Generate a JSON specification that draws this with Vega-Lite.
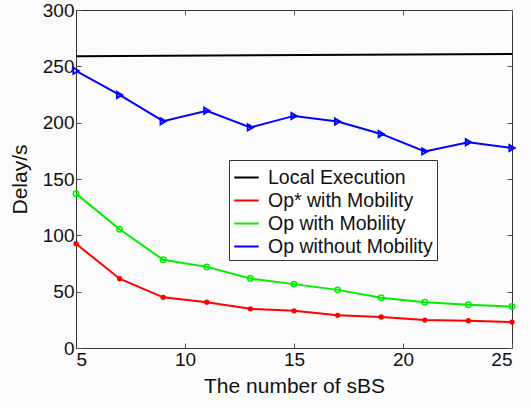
{
  "$schema": "https://vega.github.io/schema/vega-lite/v6.json",
  "autosize": {"type": "none"},
  "width": 436,
  "height": 338,
  "padding": {"left": 76, "top": 10, "right": 19, "bottom": 60},
  "background": "#fbfbfb",
  "config": {
    "font": "Liberation Sans",
    "view": {"stroke": "#333333", "strokeWidth": 1},
    "axis": {
      "grid": false,
      "labelFont": "Liberation Sans",
      "labelFontSize": 19,
      "labelColor": "#111111",
      "titleFont": "Liberation Sans",
      "titleFontSize": 21,
      "titleFontWeight": "normal",
      "titleColor": "#111111",
      "domainColor": "#333333",
      "tickColor": "#555555",
      "tickSize": -5
    }
  },
  "data": {
    "values": [
      {"x": 5, "y": 259, "s": "Local Execution"},
      {"x": 25, "y": 261, "s": "Local Execution"},
      {"x": 5, "y": 92.6, "s": "Op* with Mobility"},
      {"x": 7, "y": 61.5, "s": "Op* with Mobility"},
      {"x": 9, "y": 45, "s": "Op* with Mobility"},
      {"x": 11, "y": 40.7, "s": "Op* with Mobility"},
      {"x": 13, "y": 34.8, "s": "Op* with Mobility"},
      {"x": 15, "y": 33, "s": "Op* with Mobility"},
      {"x": 17, "y": 29, "s": "Op* with Mobility"},
      {"x": 19, "y": 27.5, "s": "Op* with Mobility"},
      {"x": 21, "y": 24.8, "s": "Op* with Mobility"},
      {"x": 23, "y": 24.2, "s": "Op* with Mobility"},
      {"x": 25, "y": 23, "s": "Op* with Mobility"},
      {"x": 5, "y": 137, "s": "Op with Mobility"},
      {"x": 7, "y": 105.4, "s": "Op with Mobility"},
      {"x": 9, "y": 78.3, "s": "Op with Mobility"},
      {"x": 11, "y": 72, "s": "Op with Mobility"},
      {"x": 13, "y": 61.7, "s": "Op with Mobility"},
      {"x": 15, "y": 56.7, "s": "Op with Mobility"},
      {"x": 17, "y": 51.6, "s": "Op with Mobility"},
      {"x": 19, "y": 44.6, "s": "Op with Mobility"},
      {"x": 21, "y": 40.6, "s": "Op with Mobility"},
      {"x": 23, "y": 38.3, "s": "Op with Mobility"},
      {"x": 25, "y": 36.8, "s": "Op with Mobility"},
      {"x": 5, "y": 246, "s": "Op without Mobility"},
      {"x": 7, "y": 224.6, "s": "Op without Mobility"},
      {"x": 9, "y": 201.3, "s": "Op without Mobility"},
      {"x": 11, "y": 210.6, "s": "Op without Mobility"},
      {"x": 13, "y": 195.8, "s": "Op without Mobility"},
      {"x": 15, "y": 206, "s": "Op without Mobility"},
      {"x": 17, "y": 201, "s": "Op without Mobility"},
      {"x": 19, "y": 190, "s": "Op without Mobility"},
      {"x": 21, "y": 174.5, "s": "Op without Mobility"},
      {"x": 23, "y": 182.6, "s": "Op without Mobility"},
      {"x": 25, "y": 177.5, "s": "Op without Mobility"}
    ]
  },
  "resolve": {"axis": {"x": "independent", "y": "independent"}},
  "layer": [
    {
      "mark": {"type": "point", "opacity": 0},
      "encoding": {
        "x": {
          "field": "x", "type": "quantitative",
          "scale": {"domain": [5, 25], "nice": false, "zero": false},
          "axis": {"orient": "top", "values": [5, 10, 15, 20, 25], "labels": false, "title": null, "domain": false}
        },
        "y": {
          "field": "y", "type": "quantitative",
          "scale": {"domain": [0, 300], "nice": false},
          "axis": {"orient": "right", "values": [0, 50, 100, 150, 200, 250, 300], "labels": false, "title": null, "domain": false}
        }
      }
    },
    {
      "encoding": {
        "x": {
          "field": "x", "type": "quantitative",
          "scale": {"domain": [5, 25], "nice": false, "zero": false},
          "axis": {"values": [5, 10, 15, 20, 25], "title": "The number of sBS", "labelPadding": 7, "titlePadding": 6}
        },
        "y": {
          "field": "y", "type": "quantitative",
          "scale": {"domain": [0, 300], "nice": false},
          "axis": {"values": [0, 50, 100, 150, 200, 250, 300], "title": "Delay/s", "labelPadding": 7, "titlePadding": 12}
        },
        "color": {
          "field": "s", "type": "nominal",
          "scale": {
            "domain": ["Local Execution", "Op* with Mobility", "Op with Mobility", "Op without Mobility"],
            "range": ["#000000", "#ff0000", "#00ee00", "#0000ff"]
          }
        }
      },
      "layer": [
        {
          "mark": {"type": "line", "strokeWidth": 2},
          "encoding": {
            "color": {
              "field": "s", "type": "nominal",
              "legend": {
                "title": null,
                "orient": "none",
                "legendX": 153,
                "legendY": 150,
                "symbolType": "stroke",
                "symbolSize": 600,
                "symbolStrokeWidth": 2,
                "labelFontSize": 19.5,
                "labelFont": "Liberation Sans",
                "labelColor": "#111111",
                "labelLimit": 300,
                "rowPadding": -1,
                "labelOffset": 8,
                "strokeColor": "#333333",
                "fillColor": "#ffffff",
                "padding": 4
              }
            }
          }
        },
        {
          "transform": [{"filter": "datum.s === 'Op* with Mobility'"}],
          "mark": {"type": "point", "shape": "circle", "filled": true, "size": 28, "opacity": 1}
        },
        {
          "transform": [{"filter": "datum.s === 'Op with Mobility'"}],
          "mark": {"type": "point", "shape": "circle", "filled": false, "size": 30, "strokeWidth": 1.5, "opacity": 1}
        },
        {
          "transform": [{"filter": "datum.s === 'Op without Mobility'"}],
          "mark": {"type": "point", "shape": "triangle-right", "filled": false, "size": 40, "strokeWidth": 1.8, "opacity": 1}
        }
      ]
    }
  ]
}
